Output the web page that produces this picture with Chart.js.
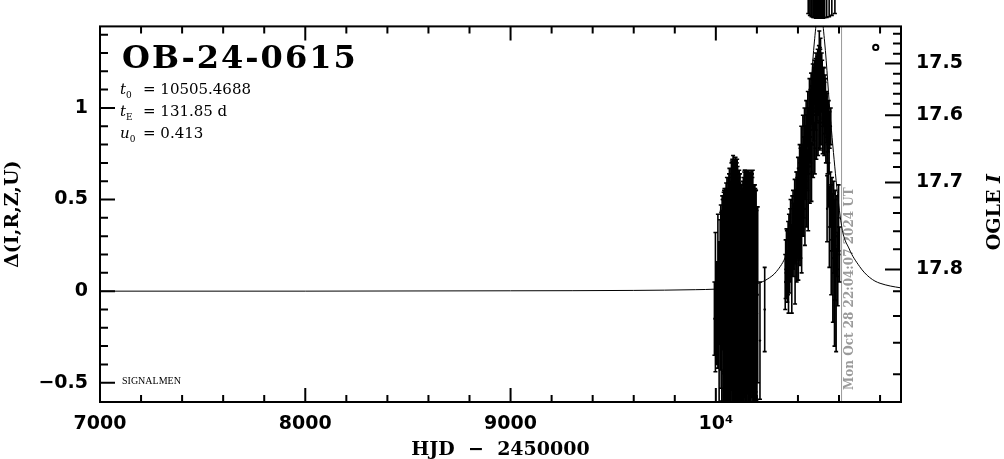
<!DOCTYPE html>
<html>
<head>
<meta charset="utf-8">
<script src="https://cdn.jsdelivr.net/npm/chart.js@4.4.1/dist/chart.umd.min.js"></script>
<style>
  html, body { margin: 0; padding: 0; background: #fff; }
  #wrap { width: 1004px; height: 459px; position: relative; }
</style>
</head>
<body>
<div id="wrap"><canvas id="lc"></canvas></div>
<script>
// model curve (HJD - 2450000 vs delta flux)
const modelT = [7000, 8000, 9000, 9600, 9900, 10000, 10100, 10200, 10250, 10296, 10344, 10400, 10450, 10480, 10505, 10530, 10560, 10612, 10650, 10700, 10725, 10750, 10775, 10800, 10850, 10902];
const modelD = [0, 0, 0.002, 0.004, 0.008, 0.011, 0.02, 0.04, 0.065, 0.108, 0.2, 0.42, 0.92, 1.36, 1.57, 1.36, 0.92, 0.36, 0.23, 0.135, 0.1, 0.074, 0.055, 0.043, 0.028, 0.018];

// 2023 season (faint, big errors), two sets
const aT = [9993, 9998, 10004, 10010, 10016, 10021, 10026, 10031, 10035, 10040, 10044, 10048, 10052, 10056, 10060, 10064, 10068, 10072, 10076, 10080, 10084, 10088, 10092, 10096, 10100, 10104, 10108, 10112, 10116, 10120, 10124, 10128, 10132, 10136, 10140, 10144, 10148, 10152, 10156, 10160, 10164, 10168, 10172, 10176, 10180, 10184, 10188, 10192, 10196, 10200, 10204, 10215, 10238];
const aD = [-0.15, -0.06, -0.12, 0.00, -0.18, 0.05, -0.05, 0.10, -0.10, 0.05, -0.08, 0.12, -0.02, 0.08, -0.12, 0.04, 0.15, -0.06, 0.08, 0.20, 0.02, -0.10, 0.12, 0.05, 0.22, -0.04, 0.10, 0.00, 0.14, -0.08, 0.06, -0.02, 0.10, -0.10, 0.04, 0.16, -0.06, 0.08, 0.00, 0.14, -0.12, 0.05, 0.12, -0.04, 0.08, -0.10, 0.02, -0.06, 0.05, -0.12, -0.02, -0.27, -0.10];
const aE = [0.20, 0.38, 0.28, 0.42, 0.45, 0.34, 0.48, 0.42, 0.60, 0.50, 0.62, 0.42, 0.58, 0.48, 0.62, 0.60, 0.45, 0.65, 0.62, 0.52, 0.72, 0.70, 0.60, 0.68, 0.50, 0.76, 0.55, 0.62, 0.45, 0.62, 0.52, 0.58, 0.50, 0.70, 0.62, 0.50, 0.72, 0.58, 0.66, 0.52, 0.70, 0.60, 0.54, 0.68, 0.58, 0.60, 0.56, 0.62, 0.50, 0.58, 0.48, 0.32, 0.23];
const a2T = [10024, 10029, 10033, 10038, 10042, 10046, 10050, 10054, 10058, 10062, 10066, 10070, 10074, 10078, 10082, 10086, 10090, 10094, 10098, 10102, 10106, 10110, 10114, 10118, 10122, 10126, 10130, 10134, 10138, 10142, 10146, 10150, 10154, 10158, 10162, 10166, 10170, 10174, 10178, 10182, 10186, 10190, 10194, 10198];
const a2D = [0.02, -0.08, 0.10, -0.04, 0.06, -0.12, 0.14, 0.00, -0.06, 0.10, 0.03, -0.10, 0.12, 0.05, -0.04, 0.16, 0.02, -0.08, 0.10, 0.00, 0.18, -0.06, 0.08, 0.02, -0.10, 0.02, -0.04, -0.02, 0.15, 0.00, -0.08, 0.10, 0.04, -0.05, 0.12, 0.00, -0.10, 0.08, 0.02, -0.04, 0.10, -0.02, 0.00, -0.08];
const a2E = [0.45, 0.52, 0.40, 0.58, 0.50, 0.60, 0.45, 0.62, 0.58, 0.52, 0.64, 0.60, 0.55, 0.66, 0.62, 0.54, 0.68, 0.64, 0.60, 0.70, 0.50, 0.66, 0.58, 0.62, 0.64, 0.52, 0.60, 0.64, 0.50, 0.66, 0.62, 0.55, 0.60, 0.66, 0.52, 0.62, 0.64, 0.56, 0.60, 0.62, 0.48, 0.60, 0.55, 0.52];

// 2024 season, rise and peak
const bT = [10340, 10344, 10348, 10352, 10356, 10360, 10364, 10368, 10372, 10376, 10380, 10384, 10388, 10392, 10396, 10400, 10404, 10408, 10412, 10416, 10420, 10424, 10428, 10432, 10436, 10440, 10444, 10448, 10452, 10456, 10460, 10464, 10468, 10472, 10476, 10480, 10484, 10488, 10492, 10496, 10500, 10504, 10507, 10510, 10514, 10518, 10522, 10526, 10530, 10534, 10538, 10542, 10546, 10550, 10555, 10560];
const bD = [0.12, 0.22, 0.08, 0.18, 0.28, 0.15, 0.32, 0.22, 0.30, 0.40, 0.26, 0.45, 0.35, 0.50, 0.40, 0.55, 0.42, 0.60, 0.48, 0.68, 0.55, 0.76, 0.62, 0.82, 0.70, 0.88, 0.76, 0.94, 0.82, 1.00, 0.90, 1.05, 0.96, 1.10, 1.00, 1.14, 1.04, 1.18, 1.08, 1.22, 1.10, 1.28, 1.05, 1.24, 1.10, 1.16, 1.04, 1.10, 1.00, 1.04, 0.95, 0.98, 0.90, 0.92, 0.88, 0.90];
const bE = [0.16, 0.12, 0.14, 0.20, 0.14, 0.16, 0.18, 0.14, 0.22, 0.15, 0.18, 0.16, 0.20, 0.15, 0.22, 0.18, 0.25, 0.20, 0.30, 0.22, 0.25, 0.20, 0.22, 0.18, 0.20, 0.16, 0.20, 0.15, 0.18, 0.16, 0.20, 0.14, 0.16, 0.14, 0.18, 0.12, 0.16, 0.12, 0.15, 0.10, 0.14, 0.14, 0.28, 0.14, 0.12, 0.10, 0.14, 0.12, 0.14, 0.12, 0.14, 0.10, 0.14, 0.12, 0.10, 0.10];
const b2T = [10338, 10346, 10354, 10362, 10370, 10378, 10386, 10394, 10402, 10410, 10418, 10426, 10434, 10442, 10450, 10458, 10466, 10474, 10482, 10490, 10498, 10506, 10512, 10520, 10528, 10536, 10544, 10552];
const b2D = [0.05, 0.15, 0.02, 0.25, 0.10, 0.30, 0.18, 0.35, 0.28, 0.42, 0.35, 0.52, 0.45, 0.60, 0.55, 0.68, 0.65, 0.80, 0.78, 0.88, 0.92, 1.00, 0.98, 0.95, 0.90, 0.88, 0.80, 0.78];
const b2E = [0.15, 0.18, 0.14, 0.20, 0.22, 0.18, 0.25, 0.30, 0.22, 0.28, 0.25, 0.22, 0.20, 0.25, 0.22, 0.20, 0.16, 0.18, 0.14, 0.16, 0.18, 0.22, 0.18, 0.20, 0.16, 0.18, 0.16, 0.14];
const b3T = [10470, 10478, 10486, 10494, 10502, 10509, 10516, 10524, 10532, 10540];
const b3D = [1.02, 1.10, 1.15, 1.12, 1.20, 1.12, 1.18, 1.08, 1.06, 0.96];
const b3E = [0.14, 0.12, 0.12, 0.16, 0.14, 0.20, 0.12, 0.14, 0.12, 0.12];

// decline, last points before the date line
const cT = [10542, 10548, 10553, 10558, 10562, 10566, 10570, 10574, 10578, 10582, 10586, 10590, 10594, 10598, 10602];
const cD = [0.45, 0.58, 0.35, 0.50, 0.28, 0.42, 0.18, 0.35, 0.10, 0.25, -0.05, 0.30, 0.12, 0.40, 0.20];
const cE = [0.18, 0.12, 0.22, 0.15, 0.30, 0.20, 0.35, 0.25, 0.40, 0.30, 0.28, 0.22, 0.20, 0.18, 0.15];

// off-scale marks above the frame
const overT = [10450, 10458, 10466, 10474, 10481, 10488, 10495, 10502, 10509, 10516, 10523, 10530, 10540, 10552, 10565, 10580];
const overLow = [1.515, 1.505, 1.498, 1.494, 1.492, 1.49, 1.49, 1.49, 1.49, 1.49, 1.49, 1.492, 1.494, 1.498, 1.505, 1.515];
const overHigh = 1.6;

const ogleMark = {x: 10779, y: 1.33};

// axes
const xMin = 7000, xMax = 10902;
const yMin = -0.605, yMax = 1.445;
const xMajorTicks = [7000, 8000, 9000, 10000];
const xTickLabels = ['7000', '8000', '9000', '10\u2074'];
const xMinorTicks = [7200, 7400, 7600, 7800, 8200, 8400, 8600, 8800, 9200, 9400, 9600, 9800, 10200, 10400, 10600, 10800];
const yMajorTicks = [-0.5, 0, 0.5, 1];
const yTickLabels = ['\u22120.5', '0', '0.5', '1'];
const yMinorTicks = [-0.4, -0.3, -0.2, -0.1, 0.1, 0.2, 0.3, 0.4, 0.6, 0.7, 0.8, 0.9, 1.1, 1.2, 1.3, 1.4];
// OGLE I magnitude ticks placed where they sit on the delta axis
const ogleLabels = ['17.5', '17.6', '17.7', '17.8'];
const ogleMajorPos = [1.243, 0.960, 0.593, 0.118];
const ogleMinorPos = [1.405, 1.351, 1.296, 1.187, 1.133, 1.078, 1.023, 0.894, 0.823, 0.752, 0.678, 0.511, 0.427, 0.327, 0.229, 0.0, -0.135, -0.282, -0.453];

const nowT = 10612.42;
const nowLabel = 'Mon Oct 28 22:04:07 2024 UT';

function pts(t, d) {
    return t.map((v, i) => ({x: v, y: d[i]}));
}

function errSet(t, d, e) {
    return {
        data: pts(t, d),
        lo: d.map((v, i) => v - e[i]),
        hi: d.map((v, i) => v + e[i]),
        showLine: false,
        pointRadius: 1.2,
        pointBackgroundColor: '#000',
        pointBorderWidth: 0,
        borderColor: '#000'
    };
}

const errorBars = {
    id: 'errorBars',
    afterDatasetsDraw(chart) {
        const {ctx, chartArea, scales: {x, y}} = chart;
        chart.data.datasets.forEach((ds) => {
            if (!ds.lo) return;
            ctx.save();
            if (ds.clip !== false) {
                ctx.beginPath();
                ctx.rect(chartArea.left, chartArea.top, chartArea.width, chartArea.height);
                ctx.clip();
            }
            ctx.strokeStyle = '#000';
            ctx.lineWidth = 1.6;
            ctx.beginPath();
            ds.data.forEach((p, i) => {
                const px = x.getPixelForValue(p.x);
                const top = y.getPixelForValue(ds.hi[i]);
                const bot = y.getPixelForValue(ds.lo[i]);
                ctx.moveTo(px, top);
                ctx.lineTo(px, bot);
                ctx.moveTo(px - 2, bot);
                ctx.lineTo(px + 2, bot);
                if (!ds.noTopCap) {
                    ctx.moveTo(px - 2, top);
                    ctx.lineTo(px + 2, top);
                }
            });
            ctx.stroke();
            ctx.restore();
        });
    }
};

const frame = {
    id: 'frame',
    beforeDatasetsDraw(chart) {
        const {ctx, chartArea: a, scales: {x}} = chart;
        const px = x.getPixelForValue(nowT);
        ctx.save();
        ctx.strokeStyle = '#9a9a9a';
        ctx.lineWidth = 1;
        ctx.beginPath();
        ctx.moveTo(px, a.top);
        ctx.lineTo(px, a.bottom);
        ctx.stroke();
        ctx.translate(px + 8, 390);
        ctx.rotate(-Math.PI / 2);
        ctx.fillStyle = '#9a9a9a';
        ctx.font = 'bold 12px "DejaVu Serif"';
        ctx.textBaseline = 'middle';
        ctx.fillText(nowLabel, 0, 0);
        ctx.restore();
    },
    afterDraw(chart) {
        const {ctx, chartArea: a, scales: {x, y}} = chart;
        ctx.save();
        ctx.strokeStyle = '#000';
        ctx.fillStyle = '#000';
        ctx.lineWidth = 2;
        ctx.beginPath();
        const xt = (list, len) => list.forEach((v) => {
            const p = x.getPixelForValue(v);
            ctx.moveTo(p, a.bottom); ctx.lineTo(p, a.bottom - len);
            ctx.moveTo(p, a.top); ctx.lineTo(p, a.top + len);
        });
        const yl = (list, len) => list.forEach((v) => {
            const p = y.getPixelForValue(v);
            ctx.moveTo(a.left, p); ctx.lineTo(a.left + len, p);
        });
        const yr = (list, len) => list.forEach((v) => {
            const p = y.getPixelForValue(v);
            ctx.moveTo(a.right, p); ctx.lineTo(a.right - len, p);
        });
        xt(xMajorTicks, 14);
        xt(xMinorTicks, 7);
        yl(yMajorTicks, 15);
        yl(yMinorTicks, 8);
        yr(ogleMajorPos, 16);
        yr(ogleMinorPos, 8);
        ctx.stroke();
        ctx.strokeRect(a.left, a.top, a.right - a.left, a.bottom - a.top);

        // event name and fit parameters
        ctx.textBaseline = 'alphabetic';
        ctx.textAlign = 'left';
        ctx.font = 'bold 32px "DejaVu Serif"';
        ctx.letterSpacing = '2px';
        ctx.fillText('OB-24-0615', a.left + 22, 68);
        ctx.letterSpacing = '0px';

        const param = (sym, sub, rest, yy) => {
            ctx.font = 'italic 15px "DejaVu Serif"';
            ctx.fillText(sym, a.left + 20, yy);
            const w = ctx.measureText(sym).width;
            ctx.font = '9px "DejaVu Serif"';
            ctx.fillText(sub, a.left + 20 + w, yy + 4);
            ctx.font = '15px "DejaVu Serif"';
            ctx.fillText(rest, a.left + 43, yy);
        };
        param('t', '0', '= 10505.4688', 94);
        param('t', 'E', '= 131.85 d', 116);
        param('u', '0', '= 0.413', 138);

        ctx.font = '10px "Liberation Serif"';
        ctx.fillText('SIGNALMEN', a.left + 22, 384);

        // axis titles
        ctx.font = 'bold 19px "DejaVu Serif"';
        ctx.textAlign = 'center';
        ctx.fillText('HJD  \u2212  2450000', (a.left + a.right) / 2, 455);

        ctx.save();
        ctx.translate(13, (a.top + a.bottom) / 2);
        ctx.rotate(-Math.PI / 2);
        ctx.textBaseline = 'middle';
        ctx.fillText('\u0394(I,R,Z,U)', 0, 0);
        ctx.restore();

        ctx.save();
        ctx.translate(995, (a.top + a.bottom) / 2 - 2);
        ctx.rotate(-Math.PI / 2);
        ctx.textBaseline = 'middle';
        ctx.textAlign = 'left';
        ctx.font = 'bold 19px "DejaVu Serif"';
        const w1 = ctx.measureText('OGLE ').width;
        ctx.font = 'bold italic 19px "DejaVu Serif"';
        const w2 = ctx.measureText('I').width;
        const start = -(w1 + w2) / 2;
        ctx.font = 'bold 19px "DejaVu Serif"';
        ctx.fillText('OGLE ', start, 0);
        ctx.font = 'bold italic 19px "DejaVu Serif"';
        ctx.fillText('I', start + w1, 0);
        ctx.restore();

        ctx.restore();
    }
};

const tickFont = {family: '"DejaVu Sans"', size: 19, weight: 'bold'};

const overSet = {
    data: overT.map((v, i) => ({x: v, y: overLow[i]})),
    lo: overLow,
    hi: overT.map(() => overHigh),
    noTopCap: true,
    showLine: false,
    pointRadius: 0,
    clip: false
};

new Chart(document.getElementById('lc').getContext('2d'), {
    type: 'scatter',
    data: {
        datasets: [
            {
                type: 'line',
                data: pts(modelT, modelD),
                borderColor: '#000',
                borderWidth: 1,
                pointRadius: 0,
                cubicInterpolationMode: 'monotone',
                fill: false
            },
            errSet(aT, aD, aE),
            errSet(a2T, a2D, a2E),
            errSet(bT, bD, bE),
            errSet(b2T, b2D, b2E),
            errSet(b3T, b3D, b3E),
            errSet(cT, cD, cE),
            overSet,
            {
                data: [ogleMark],
                pointRadius: 2.6,
                pointBorderWidth: 2,
                pointBorderColor: '#000',
                pointBackgroundColor: '#fff',
                showLine: false
            }
        ]
    },
    options: {
        responsive: true,
        maintainAspectRatio: false,
        animation: false,
        events: [],
        layout: {padding: {top: 26, left: 0, right: 0, bottom: 0}},
        plugins: {legend: {display: false}, tooltip: {enabled: false}},
        scales: {
            x: {
                type: 'linear',
                position: 'bottom',
                min: xMin,
                max: xMax,
                grid: {display: false, drawTicks: false},
                border: {display: false},
                afterBuildTicks: (s) => { s.ticks = xMajorTicks.map((v) => ({value: v})); },
                afterFit: (s) => { s.height = 57; },
                ticks: {
                    autoSkip: false,
                    maxRotation: 0,
                    padding: 11,
                    color: '#000',
                    font: tickFont,
                    callback: (v, i) => xTickLabels[i]
                }
            },
            y: {
                type: 'linear',
                position: 'left',
                min: yMin,
                max: yMax,
                grid: {display: false, drawTicks: false},
                border: {display: false},
                afterBuildTicks: (s) => { s.ticks = yMajorTicks.map((v) => ({value: v})); },
                afterFit: (s) => { s.width = 100; },
                ticks: {
                    autoSkip: false,
                    padding: 12,
                    color: '#000',
                    font: tickFont,
                    callback: (v, i) => yTickLabels[i]
                }
            },
            y2: {
                type: 'linear',
                position: 'right',
                min: yMin,
                max: yMax,
                grid: {display: false, drawTicks: false},
                border: {display: false},
                afterBuildTicks: (s) => { s.ticks = ogleMajorPos.map((v) => ({value: v})); },
                afterFit: (s) => { s.width = 103; },
                ticks: {
                    autoSkip: false,
                    padding: 15,
                    color: '#000',
                    font: tickFont,
                    callback: (v, i) => ogleLabels[i]
                }
            }
        }
    },
    plugins: [errorBars, frame]
});
</script>
</body>
</html>
